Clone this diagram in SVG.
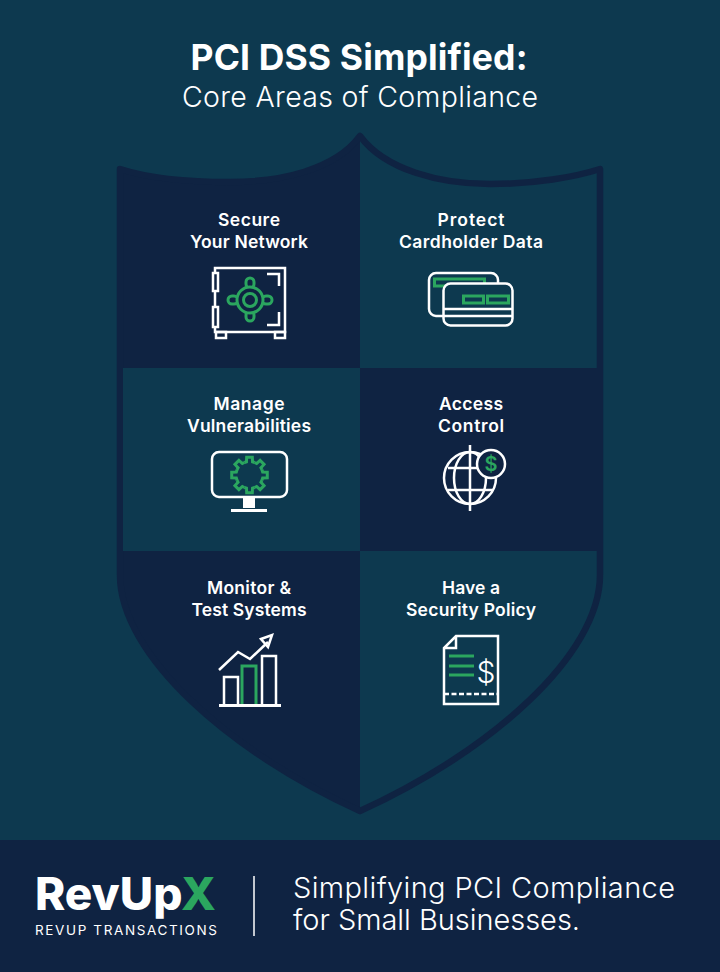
<svg xmlns="http://www.w3.org/2000/svg" width="720" height="972" viewBox="0 0 720 972">
<style>
text{font-family:"Inter","Liberation Sans",sans-serif;fill:#fff;text-anchor:middle}
.lab{font-size:17.500px;font-weight:600}
.w{fill:none;stroke:#fff;stroke-width:2.500}
.g{fill:none;stroke:#2ba65f;stroke-width:3}
.l{text-anchor:start}
</style>
<defs>
<path id="tooth" d="M-5.170-12.470L-3.040-13.150-2.820-17.780 2.820-17.780 3.040-13.150 5.170-12.470"/>
</defs>
<rect width="720" height="972" fill="#0d394f"/>
<g id="title">
<text x="359" y="70" font-size="35.500" font-weight="700" textLength="337">PCI DSS Simplified:</text>
<text x="360" y="107" font-size="28.500" font-weight="300" textLength="356">Core Areas of Compliance</text>
</g>
<g id="shield">
<path d="M360 136C335 170 280 182 230 182C185 182 145 177 120 169V575C120 655 230 752 360 811Z" fill="#0f2342"/>
<path d="M360 136C385 170 440 184 490 184C535 184 575 177 600 169V575C600 655 490 752 360 811C230 752 120 655 120 575V169C145 177 185 182 230 182C280 182 335 170 360 136Z" fill="none" stroke="#0f2342" stroke-width="6.500" stroke-linejoin="round"/>
<rect x="123" y="368" width="237" height="183" fill="#0d394f"/>
<rect x="360" y="368" width="237" height="183" fill="#0f2342"/>
</g>
<g id="secure-network">
<text class="lab" x="249" y="226" textLength="62">Secure</text>
<text class="lab" x="249" y="247.500" textLength="118">Your Network</text>
<rect class="w" x="215" y="268" width="70" height="64"/>
<rect class="w" x="213" y="273" width="5" height="18" style="fill:#0f2342"/>
<rect class="w" x="213" y="307" width="5" height="20" style="fill:#0f2342"/>
<rect class="w" x="216" y="332" width="10" height="6"/>
<rect class="w" x="275" y="332" width="10" height="6"/>
<path class="w" d="M267 274H279V286M267 325H279V312"/>
<rect class="g" x="246" y="278" width="8" height="10" rx="4"/>
<rect class="g" x="246" y="311" width="8" height="10" rx="4"/>
<rect class="g" x="228" y="296" width="10" height="8" rx="4"/>
<rect class="g" x="262" y="296" width="10" height="8" rx="4"/>
<circle class="g" cx="250" cy="300" r="13" style="fill:#0f2342"/>
<circle class="g" cx="250" cy="300" r="6.500"/>
</g>
<g id="protect-data">
<text class="lab" x="471" y="226" textLength="67">Protect</text>
<text class="lab" x="471" y="247.500" textLength="144">Cardholder Data</text>
<rect class="w" x="429" y="273" width="69" height="43" rx="7"/>
<rect class="g" x="434.500" y="279" width="50" height="7"/>
<rect class="w" x="443.500" y="283.500" width="69" height="42" rx="7" style="fill:#0d394f"/>
<path class="w" d="M444 309H512M444 316H512"/>
<rect class="g" x="463.500" y="296" width="20" height="7"/>
<rect class="g" x="487.500" y="296" width="21" height="7"/>
</g>
<g id="manage-vulnerabilities">
<text class="lab" x="249" y="410" textLength="71">Manage</text>
<text class="lab" x="249" y="431.500" textLength="124">Vulnerabilities</text>
<rect class="w" x="212" y="452" width="75" height="45" rx="7"/>
<path d="M243 498H255V508H243Z" fill="#fff"/>
<path d="M231 510.500H267" class="w" style="stroke-width:3"/>
<g class="g" transform="translate(249.500 475)">
<use href="#tooth"/>
<use href="#tooth" transform="rotate(45)"/>
<use href="#tooth" transform="rotate(90)"/>
<use href="#tooth" transform="rotate(135)"/>
<use href="#tooth" transform="rotate(180)"/>
<use href="#tooth" transform="rotate(225)"/>
<use href="#tooth" transform="rotate(270)"/>
<use href="#tooth" transform="rotate(315)"/>
</g>
</g>
<g id="access-control">
<text class="lab" x="471" y="410" textLength="64">Access</text>
<text class="lab" x="471" y="431.500" textLength="66">Control</text>
<circle class="w" cx="470" cy="478" r="26"/>
<ellipse class="w" cx="470" cy="478" rx="16" ry="26"/>
<path class="w" d="M470 445V511M448 468H493M448 490H493"/>
<circle class="w" cx="491" cy="464" r="14" style="fill:#0f2342"/>
<text x="491" y="471" font-size="20" font-weight="600" style="fill:#2ba65f">$</text>
</g>
<g id="monitor-test">
<text class="lab" x="249" y="594" textLength="84">Monitor &amp;</text>
<text class="lab" x="249" y="615.500" textLength="115">Test Systems</text>
<path class="w" d="M224 704V677H238V704M262 704V656H276V704M219 670L238 652 250 659 268 642"/>
<path class="w" d="M261 639L272 635 268 647Z"/>
<path class="g" d="M242 704V666H256V704"/>
<path class="w" d="M219 705.500H281" style="stroke-width:3"/>
</g>
<g id="security-policy">
<text class="lab" x="471" y="594" textLength="58">Have a</text>
<text class="lab" x="471" y="615.500" textLength="130">Security Policy</text>
<path class="w" d="M456 636H498V704H444V648ZM456 636V648H444"/>
<path class="w" d="M444 694H498" style="stroke-dasharray:5 2.500"/>
<path class="g" d="M449 656H474M449 666H474M449 675H474"/>
<text x="486" y="683" font-size="30" font-weight="300">$</text>
</g>
<g id="footer">
<rect y="840" width="720" height="132" fill="#0f2342"/>
<text class="l" x="35" y="910" font-size="45" font-weight="800" textLength="181" lengthAdjust="spacingAndGlyphs">RevUp<tspan style="fill:#2ba65f">X</tspan></text>
<text class="l" x="35" y="935" font-size="13.500" font-weight="400" textLength="182">REVUP TRANSACTIONS</text>
<path d="M254 876V936" stroke="#fff" stroke-width="1.500"/>
<text class="l" x="293" y="898" font-size="29" font-weight="300" textLength="382">Simplifying PCI Compliance</text>
<text class="l" x="293" y="930" font-size="29" font-weight="300" textLength="287">for Small Businesses.</text>
</g>
</svg>
